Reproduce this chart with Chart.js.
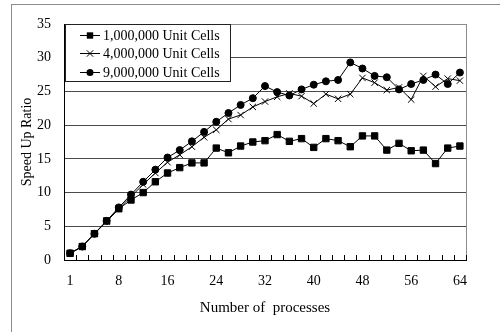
<!DOCTYPE html>
<html lang="en">
<head>
<meta charset="UTF-8">
<title>Speed Up Ratio</title>
<script src="https://cdn.jsdelivr.net/npm/chart.js"></script>
<style>
    body {
        margin: 0;
        background: #fff;
        overflow: hidden;
    }

    .wrap {
        position: relative;
        width: 500px;
        height: 332px;
    }

    /* outer chart-area frame, cropped at right/bottom like the original */
    .frame {
        position: absolute;
        left: 11px;
        top: 4px;
        width: 600px;
        height: 400px;
        border: 1px solid #8c8c8c;
    }

    #speedChart {
        position: absolute;
        left: 0;
        top: 0;
    }
</style>
</head>
<body>
<div class="wrap">
    <div class="frame"></div>
    <canvas id="speedChart" width="500" height="332"></canvas>
</div>

<script>
    // number of processes (category axis)
    const processes = ['1', '2', '4', '6', '8', '10', '12', '14', '16', '18', '20', '22', '24', '26', '28', '30',
        '32', '34', '36', '38', '40', '42', '44', '46', '48', '50', '52', '54', '56', '58', '60', '62', '64'];

    const cells1M = [1.0, 2.0, 3.9, 5.8, 7.6, 8.9, 10.0, 11.6, 12.9, 13.7, 14.4, 14.4, 16.6, 15.9, 16.9, 17.5,
        17.7, 18.6, 17.6, 18.0, 16.7, 18.0, 17.7, 16.8, 18.4, 18.4, 16.3, 17.3, 16.2, 16.3, 14.3, 16.6, 16.9];
    const cells4M = [1.0, 2.0, 3.9, 5.7, 7.6, 9.4, 11.2, 12.9, 14.5, 15.6, 16.8, 18.2, 19.3, 20.9, 21.5, 22.7,
        23.5, 24.2, 24.7, 24.3, 23.2, 24.6, 23.9, 24.6, 27.0, 26.3, 25.2, 25.6, 23.8, 27.3, 25.7, 26.9, 26.6];
    const cells9M = [1.0, 2.0, 3.9, 5.8, 7.8, 9.7, 11.6, 13.4, 15.2, 16.3, 17.6, 19.0, 20.5, 21.8, 23.0, 24.0,
        25.8, 24.9, 24.4, 25.3, 26.0, 26.5, 26.7, 29.3, 28.4, 27.3, 27.1, 25.3, 26.1, 26.7, 27.5, 26.1, 27.8];

    const seriesNames = ['1,000,000 Unit Cells', '4,000,000 Unit Cells', '9,000,000 Unit Cells'];

    const serif = '"Liberation Serif", "Times New Roman", serif';

    function series(label, data, style, radius) {
        return {
            label: label,
            data: data,
            borderColor: '#000',
            borderWidth: 1,
            pointStyle: style,
            pointRadius: radius,
            pointBackgroundColor: '#000',
            pointBorderColor: '#000',
            pointBorderWidth: 1,
            tension: 0,
            fill: false
        };
    }

    // gray border round the plot area
    const plotFrame = {
        id: 'plotFrame',
        beforeDraw(chart) {
            const { ctx, chartArea: a } = chart;
            ctx.save();
            ctx.strokeStyle = '#8c8c8c';
            ctx.lineWidth = 1;
            ctx.strokeRect(Math.round(a.left) + 0.5, Math.round(a.top) + 0.5,
                Math.round(a.right - a.left), Math.round(a.bottom - a.top));
            ctx.restore();
        }
    };

    // small tick marks pointing up into the plot, between categories
    const innerTicks = {
        id: 'innerTicks',
        afterDraw(chart) {
            const { ctx, chartArea: a } = chart;
            const xs = chart.scales.x;
            const base = Math.round(a.bottom);
            ctx.save();
            ctx.strokeStyle = '#000';
            ctx.lineWidth = 1;
            ctx.beginPath();
            for (let i = 0; i <= processes.length; i++) {
                const px = Math.round(xs.getPixelForValue(i - 0.5)) + 0.5;
                ctx.moveTo(px, base);
                ctx.lineTo(px, base - 5);
            }
            ctx.stroke();
            ctx.restore();
        }
    };

    function marker(ctx, style, r, x, y) {
        ctx.beginPath();
        if (style === 'rect') {
            const s = r * Math.SQRT1_2;
            ctx.fillRect(x - s, y - s, 2 * s, 2 * s);
        } else if (style === 'circle') {
            ctx.arc(x, y, r, 0, Math.PI * 2);
            ctx.fill();
        } else {
            const d = r * Math.SQRT1_2;
            ctx.moveTo(x - d, y - d); ctx.lineTo(x + d, y + d);
            ctx.moveTo(x + d, y - d); ctx.lineTo(x - d, y + d);
            ctx.stroke();
        }
    }

    // boxed legend sitting in the top-left corner of the plot
    const legendBox = {
        id: 'legendBox',
        afterDatasetsDraw(chart) {
            const { ctx, chartArea: a } = chart;
            const x = Math.round(a.left) + 1, y = Math.round(a.top);
            ctx.save();
            ctx.fillStyle = '#fff';
            ctx.fillRect(x, y, 165, 57);
            ctx.strokeStyle = '#222';
            ctx.lineWidth = 1;
            ctx.strokeRect(x + 0.5, y + 0.5, 165, 57);
            ctx.font = '14px ' + serif;
            ctx.textBaseline = 'middle';
            chart.data.datasets.forEach((ds, i) => {
                const cy = Math.round(y + 10.5 + i * 18.7) + 0.5;
                ctx.strokeStyle = '#000';
                ctx.fillStyle = '#000';
                ctx.beginPath();
                ctx.moveTo(x + 15, cy);
                ctx.lineTo(x + 35, cy);
                ctx.stroke();
                marker(ctx, ds.pointStyle, ds.pointRadius, x + 25, cy);
                ctx.fillText(ds.label, x + 38, cy + 1);
            });
            ctx.restore();
        }
    };

    new Chart(document.getElementById('speedChart'), {
        type: 'line',
        data: {
            labels: processes,
            datasets: [
                series(seriesNames[0], cells1M, 'rect', 4.5),
                series(seriesNames[1], cells4M, 'crossRot', 4.5),
                series(seriesNames[2], cells9M, 'circle', 3.5)
            ]
        },
        options: {
            responsive: false,
            animation: false,
            layout: { padding: { top: 24, right: 34, left: 0, bottom: 0 } },
            plugins: {
                legend: { display: false },
                tooltip: { enabled: false }
            },
            scales: {
                x: {
                    type: 'category',
                    offset: true,
                    grid: {
                        offset: true,
                        drawOnChartArea: false,
                        drawTicks: false
                    },
                    border: { color: '#000', width: 1 },
                    ticks: {
                        autoSkip: false,
                        maxRotation: 0,
                        padding: 13,
                        color: '#000',
                        font: { family: serif, size: 14 },
                        callback: (v, i) => (i % 4 === 0 ? processes[i] : '')
                    },
                    title: {
                        display: true,
                        text: 'Number of  processes',
                        color: '#000',
                        font: { family: serif, size: 15 },
                        padding: { top: 0, bottom: 15 }
                    },
                    afterFit: s => { s.height = 72; }
                },
                y: {
                    min: 0,
                    max: 35,
                    grid: {
                        drawTicks: false,
                        color: c => (c.tick && c.tick.value === 35 ? '#8c8c8c' : '#4a4a4a')
                    },
                    border: { color: '#000', width: 1 },
                    ticks: {
                        stepSize: 5,
                        padding: 13,
                        color: '#000',
                        font: { family: serif, size: 14 }
                    },
                    title: {
                        display: true,
                        text: 'Speed Up Ratio',
                        color: '#000',
                        font: { family: serif, size: 14 },
                        padding: { top: 19, bottom: 0 }
                    },
                    afterFit: s => { s.width = 64; }
                }
            }
        },
        plugins: [plotFrame, innerTicks, legendBox]
    });
</script>
</body>
</html>
